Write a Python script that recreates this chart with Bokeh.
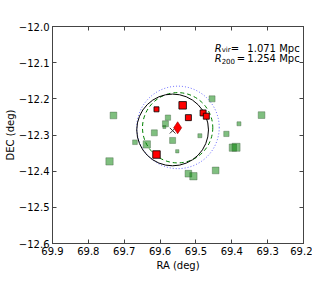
from bokeh.plotting import figure
from bokeh.models import Range1d, FixedTicker, CustomJSTickFormatter, LinearAxis, Label
from bokeh.embed import file_html
from bokeh.resources import INLINE

# ---- data ----
x_ticks = [69.9, 69.8, 69.7, 69.6, 69.5, 69.4, 69.3, 69.2]
y_ticks = [-12.6, -12.5, -12.4, -12.3, -12.2, -12.1, -12.0]

green_ra = [69.730, 69.578, 69.585, 69.588, 69.616, 69.670, 69.637, 69.565, 69.552, 69.741,
            69.521, 69.507, 69.489, 69.455, 69.317, 69.380, 69.415, 69.397, 69.388, 69.445]
green_dec = [-12.246, -12.252, -12.269, -12.278, -12.294, -12.320, -12.326, -12.315, -12.345, -12.373,
             -12.407, -12.414, -12.302, -12.200, -12.245, -12.269, -12.297, -12.335, -12.334, -12.398]
green_size = [6.7, 5.3, 6.0, 3.0, 6.0, 4.7, 7.3, 6.0, 3.3, 7.3,
              6.7, 7.3, 4.0, 6.0, 6.7, 4.0, 5.3, 7.3, 8.0, 6.7]

red_ra = [69.610, 69.537, 69.521, 69.480, 69.471, 69.610]
red_dec = [-12.229, -12.218, -12.252, -12.239, -12.248, -12.354]
red_size = [5.0, 7.5, 6.0, 6.0, 6.0, 7.5]

bcg_ra = [69.551]
bcg_dec = [-12.280]
cen_ra = [69.565]
cen_dec = [-12.288]

circ_black = dict(ra=[69.565], dec=[-12.286], r=[0.100])
circ_green = dict(ra=[69.551], dec=[-12.280], r=[0.098])
circ_blue = dict(ra=[69.550], dec=[-12.279], r=[0.115])

r_vir_txt = "1.071 Mpc"
r_200_txt = "1.254 Mpc"

FONT = "DejaVu Sans"

p = figure(width=312, height=280,
           x_range=Range1d(69.9, 69.2), y_range=Range1d(-12.6, -12.0),
           output_backend="svg", toolbar_location=None,
           min_border_left=52, min_border_right=9, min_border_top=26, min_border_bottom=37)
p.xgrid.visible = False
p.ygrid.visible = False
p.outline_line_color = "#444444"
p.background_fill_color = "white"
p.border_fill_color = "white"

fmt = CustomJSTickFormatter(code="return (tick < 0 ? '\\u2212' : '') + Math.abs(tick).toFixed(1);")

def style_axis(ax, ticks, labels=True):
    ax.ticker = FixedTicker(ticks=ticks)
    ax.formatter = fmt
    ax.major_tick_in = 4
    ax.major_tick_out = 0
    ax.minor_tick_line_color = None
    ax.axis_line_color = "#444444"
    ax.major_tick_line_color = "#444444"
    ax.major_label_text_font = FONT
    ax.major_label_text_font_size = "10px"
    ax.axis_label_text_font = FONT
    ax.axis_label_text_font_size = "10px"
    ax.axis_label_text_font_style = "normal"
    ax.axis_label_text_color = "black"
    if labels:
        ax.major_label_text_color = "black"
        ax.major_label_standoff = 3
    else:
        ax.major_label_text_color = None
        ax.major_label_standoff = 0

style_axis(p.xaxis[0], x_ticks)
style_axis(p.yaxis[0], y_ticks)
p.xaxis[0].axis_label = "RA (deg)"
p.yaxis[0].axis_label = "DEC (deg)"
p.xaxis[0].axis_label_standoff = 2
p.yaxis[0].axis_label_standoff = 0

top = LinearAxis()
style_axis(top, x_ticks, labels=False)
p.add_layout(top, "above")
right = LinearAxis()
style_axis(right, y_ticks, labels=False)
p.add_layout(right, "right")

# circles
p.circle(x=circ_blue["ra"], y=circ_blue["dec"], radius=circ_blue["r"], fill_color=None,
         line_color="blue", line_alpha=0.6, line_width=1, line_dash="1 2")
p.circle(x=circ_green["ra"], y=circ_green["dec"], radius=circ_green["r"], fill_color=None,
         line_color="green", line_width=1, line_dash="4 3")
p.circle(x=circ_black["ra"], y=circ_black["dec"], radius=circ_black["r"], fill_color=None,
         line_color="black", line_width=1)

# members
p.scatter(x=green_ra, y=green_dec, size=green_size, marker="square",
          fill_color="green", fill_alpha=0.5, line_color="#406040", line_alpha=0.5, line_width=0.8)
p.scatter(x=red_ra, y=red_dec, size=red_size, marker="square",
          fill_color="red", line_color="black", line_width=0.8)

p.scatter(x=cen_ra, y=cen_dec, size=8, marker="x", line_color="#333333", line_width=1)
p.scatter(x=bcg_ra, y=bcg_dec, size=12, marker="diamond", fill_color="red",
          line_color="#990000", line_width=0.6)

# annotation text
ax_r = 69.208
y1 = -12.0608
y2 = -12.0885
def lab(txt, y, xoff, size="10px", style="normal", align="left", yoff=0):
    p.add_layout(Label(x=ax_r, y=y, x_offset=xoff, y_offset=yoff, text=txt,
                       text_font=FONT, text_font_size=size, text_font_style=style,
                       text_align=align, text_baseline="alphabetic", text_color="black"))

lab("R", y1, -86, style="italic")
lab("vir", y1, -79, size="7px", yoff=-2)
lab("=", y1, -70)
lab(r_vir_txt, y1, -1, align="right")
lab("R", y2, -86, style="italic")
lab("200", y2, -79, size="7px", yoff=-2)
lab("=", y2, -64)
lab(r_200_txt, y2, -1, align="right")

open("out.html", "w").write(file_html(p, INLINE))
